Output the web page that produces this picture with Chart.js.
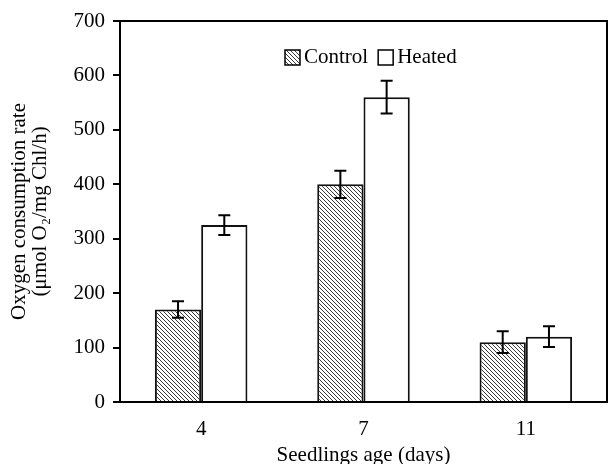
<!DOCTYPE html>
<html>
<head>
<meta charset="utf-8">
<script src="https://cdn.jsdelivr.net/npm/chart.js@4/dist/chart.umd.min.js"></script>
<style>
  html, body { margin: 0; padding: 0; background: #fff; overflow: hidden; }
  #wrap { width: 608px; height: 464px; }
</style>
</head>
<body>
<div id="wrap"><canvas id="c" width="608" height="464"></canvas></div>
<script>
// ---- data ----
const categories = ['4', '7', '11'];
const seriesNames = ['Control', 'Heated'];
const controlValues = [170, 400, 110];
const controlErrors = [15, 25, 20];
const heatedValues = [325, 560, 120];
const heatedErrors = [18, 30, 19];
const yTickValues = [0, 100, 200, 300, 400, 500, 600, 700];
const xTitle = 'Seedlings age (days)';
const yTitle = ['Oxygen consumption rate', '(\u03bcmol O\u2082/mg Chl/h)'];

// ---- styling helpers ----
const FONT = 'Liberation Serif, Times New Roman, serif';
function makeHatch() {
  const s = 4;
  const p = document.createElement('canvas');
  p.width = s; p.height = s;
  const g = p.getContext('2d');
  g.fillStyle = '#ffffff';
  g.fillRect(0, 0, s, s);
  g.strokeStyle = '#3a3a3a';
  g.lineWidth = 1;
  g.beginPath();
  g.moveTo(-1, -1); g.lineTo(s + 1, s + 1);
  g.moveTo(-1, s - 1); g.lineTo(1, s + 1);
  g.moveTo(s - 1, -1); g.lineTo(s + 1, 1);
  g.stroke();
  return document.getElementById('c').getContext('2d').createPattern(p, 'repeat');
}
const hatch = makeHatch();

const errorBars = {
  id: 'errorBars',
  afterDatasetsDraw(chart) {
    const ctx = chart.ctx;
    const y = chart.scales.y;
    ctx.save();
    ctx.strokeStyle = '#000';
    ctx.lineWidth = 2;
    chart.data.datasets.forEach((ds, di) => {
      const meta = chart.getDatasetMeta(di);
      meta.data.forEach((bar, i) => {
        const v = ds.data[i], e = ds.errors[i];
        const top = y.getPixelForValue(v + e);
        const bot = y.getPixelForValue(v - e);
        const cap = 6;
        ctx.beginPath();
        ctx.moveTo(bar.x, top); ctx.lineTo(bar.x, bot);
        ctx.moveTo(bar.x - cap, top); ctx.lineTo(bar.x + cap, top);
        ctx.moveTo(bar.x - cap, bot); ctx.lineTo(bar.x + cap, bot);
        ctx.stroke();
      });
    });
    ctx.restore();
  }
};

const frameBox = {
  id: 'frameBox',
  afterDraw(chart) {
    const a = chart.chartArea, ctx = chart.ctx;
    ctx.save();
    ctx.strokeStyle = '#000';
    ctx.lineWidth = 2;
    ctx.beginPath();
    ctx.moveTo(a.left, a.top); ctx.lineTo(a.right, a.top); ctx.lineTo(a.right, a.bottom);
    ctx.stroke();
    ctx.restore();
  }
};

const innerLegend = {
  id: 'innerLegend',
  afterDraw(chart) {
    const a = chart.chartArea, ctx = chart.ctx;
    ctx.save();
    ctx.font = '21px ' + FONT;
    ctx.textBaseline = 'middle';
    ctx.textAlign = 'left';
    let x = a.left + 165;
    const cy = a.top + 36.5;
    const box = 15;
    chart.data.datasets.forEach(ds => {
      ctx.fillStyle = ds.backgroundColor;
      ctx.fillRect(x, cy - box / 2, box, box);
      ctx.strokeStyle = '#000';
      ctx.lineWidth = 1.5;
      ctx.strokeRect(x, cy - box / 2, box, box);
      x += box + 4;
      ctx.fillStyle = '#000';
      ctx.fillText(ds.label, x, cy);
      x += ctx.measureText(ds.label).width + 10;
    });
    ctx.restore();
  }
};

new Chart(document.getElementById('c'), {
  type: 'bar',
  data: {
    labels: categories,
    datasets: [
      { label: seriesNames[0], data: controlValues, errors: controlErrors,
        backgroundColor: hatch, borderColor: '#111', borderWidth: 2,
        categoryPercentage: 0.57, barPercentage: 1.0 },
      { label: seriesNames[1], data: heatedValues, errors: heatedErrors,
        backgroundColor: '#ffffff', borderColor: '#111', borderWidth: 2,
        categoryPercentage: 0.57, barPercentage: 1.0 }
    ]
  },
  options: {
    responsive: false,
    animation: false,
    events: [],
    layout: { padding: { top: 21, right: 1, left: 0, bottom: 0 } },
    plugins: { legend: { display: false }, tooltip: { enabled: false } },
    scales: {
      x: {
        grid: { display: false, drawTicks: false },
        border: { color: '#000', width: 2 },
        ticks: { color: '#000', font: { family: FONT, size: 21 }, padding: 15 },
        title: { display: true, text: xTitle, color: '#000',
                 font: { family: FONT, size: 21, lineHeight: 1.2 }, padding: { top: 0, bottom: -4 } },
        afterFit(s) { s.height = 62; }
      },
      y: {
        min: 0, max: 700,
        afterBuildTicks(s) { s.ticks = yTickValues.map(v => ({ value: v })); },
        grid: { display: true, drawOnChartArea: false, drawTicks: true, tickLength: 7, color: '#000', lineWidth: 2 },
        border: { color: '#000', width: 2 },
        ticks: { color: '#000', font: { family: FONT, size: 21 }, padding: 8 },
        title: { display: true, text: yTitle, color: '#000',
                 font: { family: FONT, size: 21, lineHeight: 1.0 }, padding: { top: 8.5, bottom: 0 } },
        afterFit(s) { s.width = 120; }
      }
    }
  },
  plugins: [errorBars, frameBox, innerLegend]
});
</script>
</body>
</html>
